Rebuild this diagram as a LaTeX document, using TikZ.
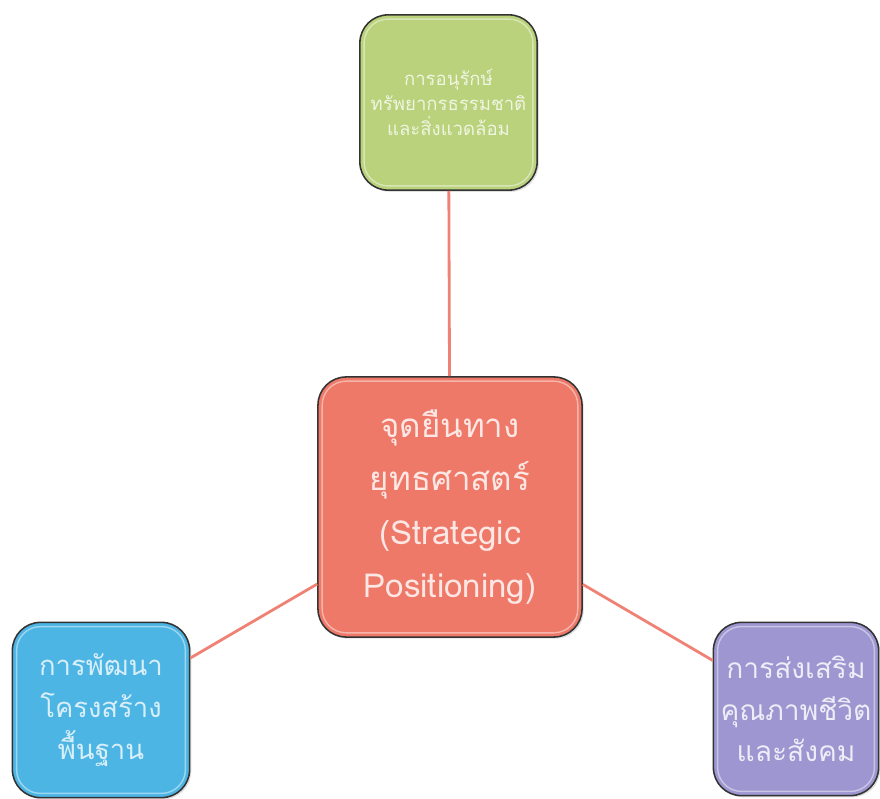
\documentclass[tikz,border=0pt]{standalone}
\usepackage{fontspec}
\newfontfamily\thaifont[Script=Thai]{Loma}
\usepackage{tikz}
\usetikzlibrary{positioning,shadows}

\definecolor{leafgreen}{HTML}{B9D27B}
\definecolor{coral}{HTML}{EE7968}
\definecolor{skyblue}{HTML}{4DB5E4}
\definecolor{lavender}{HTML}{9D96D0}
\definecolor{linkred}{HTML}{F08275}

\begin{document}
\begin{tikzpicture}[x=0.025cm,y=-0.025cm,
  box/.style={draw=black!80,line width=1.1pt,rounded corners=20pt,align=center,inner sep=0pt,
    drop shadow={shadow xshift=1.2pt,shadow yshift=-1.2pt,opacity=0.25},
    path picture={\draw[white,opacity=0.45,line width=1pt,rounded corners=17pt]
      ([shift={(3pt,3pt)}]path picture bounding box.south west) rectangle
      ([shift={(-3pt,-3pt)}]path picture bounding box.north east);}},
  hub/.style={box,fill=coral,text=white!82!coral,minimum width=6.6cm,minimum height=6.5cm,font=\thaifont\fontsize{23.5}{38}\selectfont},
  aim/.style={box,minimum width=4.43cm,minimum height=4.38cm,font=\thaifont\fontsize{19.5}{30}\selectfont},
  link/.style={draw=linkred,line width=2pt}]
\useasboundingbox (0,0) rectangle (880,799);
\node[hub] (strategy) at (450,507) {จุดยืนทาง\\ยุทธศาสตร์\\(Strategic\\Positioning)};
\node[aim,fill=leafgreen,text=white!78!leafgreen,font=\thaifont\fontsize{13.2}{17.7}\selectfont] (nature) at (448.5,102.5) {การอนุรักษ์\\ทรัพยากรธรรมชาติ\\และสิ่งแวดล้อม};
\node[aim,fill=skyblue,text=white!78!skyblue] (infra) at (101,710) {การพัฒนา\\โครงสร้าง\\พื้นฐาน};
\node[aim,fill=lavender,text=white!82!lavender,minimum width=4.13cm,minimum height=4.33cm,font=\thaifont\fontsize{20}{29.5}\selectfont] (society) at (796,709) {การส่งเสริม\\คุณภาพชีวิต\\และสังคม};
\draw[link] (nature) -- (strategy);
\draw[link] (strategy) -- (infra);
\draw[link] (strategy) -- (society);
\end{tikzpicture}
\end{document}
